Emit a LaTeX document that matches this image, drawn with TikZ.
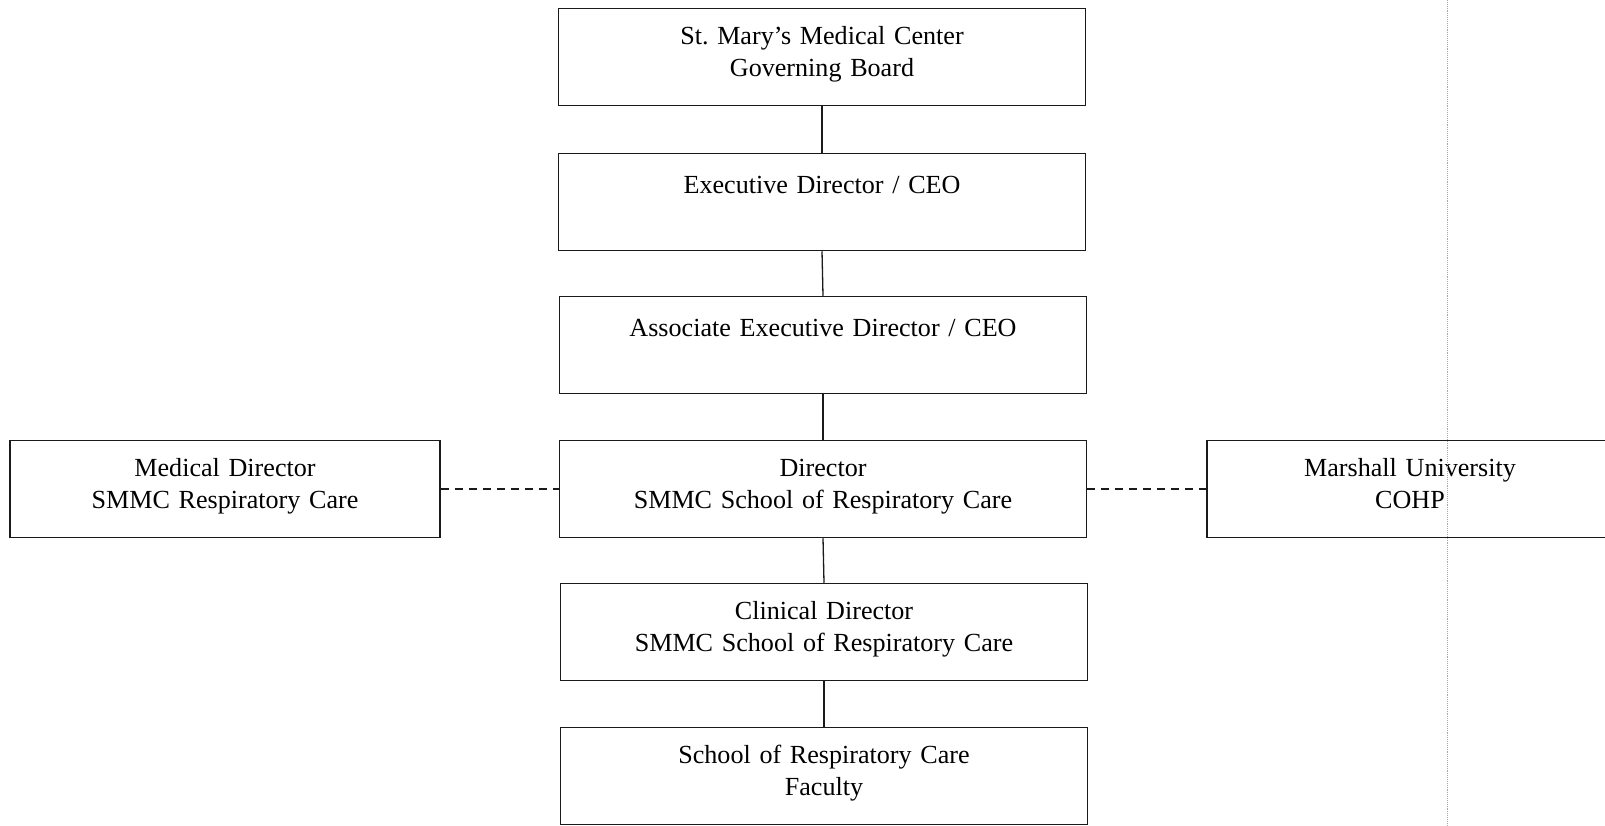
\documentclass[tikz,border=0pt]{standalone}
\usepackage{fontspec}
\setmainfont{Liberation Serif}
\usepackage{xcolor}
\usepackage{tikz}
\frenchspacing
\definecolor{edge}{HTML}{1A1A1A}
\definecolor{guide}{HTML}{A8A8A8}
\tikzset{
  OrgBox/.style={
    draw=edge, line width=1.5pt,
    rectangle, inner sep=0pt,
    text width=527pt, align=center,
    text height=36pt, text depth=61pt
  },
  OneLine/.style={text height=40pt, text depth=57pt},
  Link/.style={draw=edge, line width=1.3pt},
  DashLink/.style={Link, dash pattern=on 8pt off 6pt}
}

\begin{document}
\begin{tikzpicture}[x=1pt, y=-1pt, font=\fontsize{26.1}{31.6}\selectfont]
  % page frame
  \useasboundingbox (0,0) rectangle (1605,825);
  \clip (0,0) rectangle (1605,825);

  % main column
  \node[OrgBox] (board) at (822,57) {St. Mary's Medical Center\\Governing Board};
  \node[OrgBox, OneLine] (ceo) at (822,202) {Executive Director / CEO};
  \node[OrgBox, OneLine] (assoc) at (823,345) {Associate Executive Director / CEO};
  \node[OrgBox] (dir) at (823,489) {Director\\SMMC School of Respiratory Care};
  \node[OrgBox] (clin) at (824,632) {Clinical Director\\SMMC School of Respiratory Care};
  \node[OrgBox] (fac) at (824,776) {School of Respiratory Care\\Faculty};

  % side boxes
  \node[OrgBox, text width=430pt] (meddir) at (225,489) {Medical Director\\SMMC Respiratory Care};
  \node[OrgBox, text width=406pt] (mu) at (1410,489) {Marshall University\\COHP};

  % solid reporting lines
  \draw[Link] (board.south) -- (ceo.north);
  \draw[Link] (ceo.south) -- (assoc.north);
  \draw[Link] (assoc.south) -- (dir.north);
  \draw[Link] (dir.south) -- (clin.north);
  \draw[Link] (clin.south) -- (fac.north);

  % dashed liaison lines
  \draw[DashLink] (meddir.east) -- (dir.west);
  \draw[DashLink] (dir.east) -- (mu.west);

  % page guide
  \draw[guide, densely dotted, line width=0.9pt] (1447,0) -- (1447,825);
\end{tikzpicture}
\end{document}
